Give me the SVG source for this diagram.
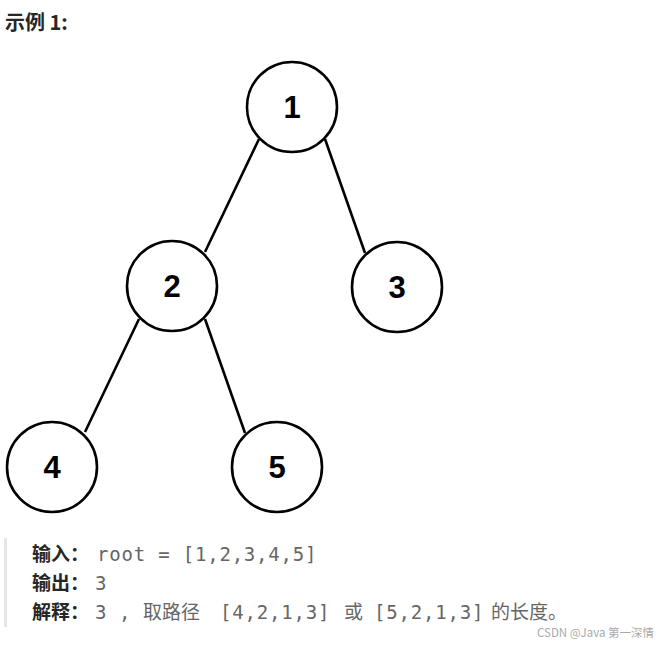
<svg xmlns="http://www.w3.org/2000/svg" width="670" height="648" viewBox="0 0 670 648">
<style>
.node circle{fill:#fff;stroke:#000;stroke-width:2.6}
.node text{font-family:"Liberation Sans",Arial,sans-serif;font-weight:bold;font-size:31px;text-anchor:middle;fill:#000}
.edges line{stroke:#000;stroke-width:2.6}
.lbl{font-family:"Noto Sans CJK SC","Noto Sans",sans-serif;font-weight:bold;font-size:19px;fill:#262626}
.val{font-family:"DejaVu Sans Mono","Liberation Mono",monospace;font-size:19px;fill:#666;letter-spacing:0.8px}
.cjk{font-family:"Noto Sans CJK SC","Noto Sans",sans-serif;font-size:19px;fill:#666}
</style>
<rect width="670" height="648" fill="#fff"/>
<text x="5" y="30" class="lbl" style="font-size:20px">示例 1:</text>
<g class="edges">
<line x1="259" y1="139" x2="205" y2="252"/>
<line x1="325" y1="139" x2="365" y2="253"/>
<line x1="139" y1="319" x2="85" y2="432"/>
<line x1="205" y1="319" x2="245" y2="433"/>
</g>
<g id="n1" class="node"><circle cx="292" cy="107" r="45"/><text x="292" y="118">1</text></g>
<g id="n2" class="node"><circle cx="172" cy="286" r="45"/><text x="172" y="297">2</text></g>
<g id="n3" class="node"><circle cx="397" cy="287" r="45"/><text x="397" y="298">3</text></g>
<g id="n4" class="node"><circle cx="52" cy="467" r="45"/><text x="52" y="478">4</text></g>
<g id="n5" class="node"><circle cx="277" cy="467" r="45"/><text x="277" y="478">5</text></g>
<rect x="4" y="538" width="3" height="89" fill="#e6e6e6"/>
<text x="32" y="561" class="lbl">输入：</text>
<text x="97" y="561" class="val">root = [1,2,3,4,5]</text>
<text x="32" y="590" class="lbl">输出：</text>
<text x="95" y="590" class="val">3</text>
<text x="32" y="619" class="lbl">解释：</text>
<text x="95" y="619" class="val">3</text>
<text x="119" y="619" class="val">,</text>
<text x="143" y="619" class="cjk">取路径</text>
<text x="220" y="619" class="val">[4,2,1,3]</text>
<text x="344" y="619" class="cjk">或</text>
<text x="374" y="619" class="val">[5,2,1,3]</text>
<text x="491" y="619" class="cjk">的长度。</text>
<text x="537" y="637" style="font-family:'Noto Sans CJK SC','Noto Sans',sans-serif;font-size:11.5px;fill:#aaa">CSDN @Java 第一深情</text>
</svg>
